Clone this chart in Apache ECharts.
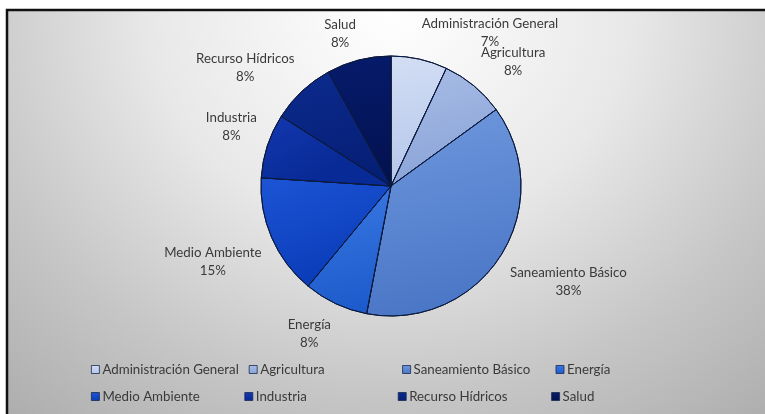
<!DOCTYPE html>
<html>
<head>
<meta charset="utf-8">
<script src="https://cdn.jsdelivr.net/npm/echarts@6/dist/echarts.min.js"></script>
<style>
html,body{margin:0;padding:0;background:#fff;}
#chart{width:765px;height:414px;}
</style>
</head>
<body>
<div id="chart"></div>
<script>
// ---- data ----
const categories = ['Administración General','Agricultura','Saneamiento Básico','Energía','Medio Ambiente','Industria','Recurso Hídricos','Salud'];
const values = [7, 8, 38, 8, 15, 8, 8, 8];
const colorsLight = ['#d3def4','#a9bde6','#6f98dd','#3a78e2','#1d55d6','#1338b0','#0c2b8e','#061b6c'];
const colorsBase  = ['#b4c6ea','#8aa4d8','#4a76c6','#1d5bcc','#0a3cb8','#082a96','#061f76','#03114f'];

// ---- layout ----
const CX = 391, CY = 186, R = 130, LABEL_DIST = 141, TEXT_DY = 2;
const total = values.reduce((a, b) => a + b, 0);
const cum = [];
values.reduce((acc, v, i) => { cum[i] = acc; return acc + v; }, 0);

const chart = echarts.init(document.getElementById('chart'), null, {renderer: 'canvas'});

const grad = (i, x2, y2) => ({
  type: 'linear', x: 0, y: 0, x2: x2, y2: y2,
  colorStops: [{offset: 0, color: colorsLight[i]}, {offset: 1, color: colorsBase[i]}]
});

const seriesData = categories.map((name, i) => ({
  name: name, value: values[i], itemStyle: {color: grad(i, 0.3, 1)}
}));

const legendData = categories.map((name, i) => ({
  name: name,
  itemStyle: {color: grad(i, 0, 1), borderColor: '#1a2a50', borderWidth: 0.8}
}));

const BG_W = 758, BG_H = 404, BG_SX = 1.12;
chart.setOption({
  backgroundColor: '#ffffff',
  graphic: [
    {
      type: 'rect', z: -10, silent: true,
      x: 7, y: 10, scaleX: BG_SX,
      shape: {x: 0, y: 0, width: BG_W / BG_SX, height: BG_H},
      style: {
        fill: {
          type: 'radial', x: 0.505, y: 0.0, r: 1.334,
          colorStops: [
            {offset: 0, color: '#ffffff'},
            {offset: 0.4, color: '#e8e8e8'},
            {offset: 0.714, color: '#c6c6c6'},
            {offset: 1, color: '#acacac'}
          ]
        }
      }
    },
    {
      type: 'polyline', z: -5, silent: true,
      shape: {points: [[7, 420], [7, 10], [770, 10]]},
      style: {stroke: '#111111', lineWidth: 2.5, fill: null}
    }
  ],
  legend: {
    data: legendData,
    left: 86, top: 356, width: 640,
    orient: 'horizontal',
    icon: 'rect', itemWidth: 8, itemHeight: 8, itemGap: 10,
    textStyle: {
      fontFamily: 'Lato', fontSize: 13.3, color: '#3a3a3a',
      width: 132, lineHeight: 17, overflow: 'none', padding: [0, 0, 0, -2]
    },
    selectedMode: false
  },
  series: [{
    type: 'pie',
    center: [CX, CY],
    radius: R,
    startAngle: 90,
    clockwise: true,
    avoidLabelOverlap: false,
    data: seriesData,
    itemStyle: {borderColor: '#0b1a3e', borderWidth: 1},
    emphasis: {disabled: true},
    label: {
      show: true, position: 'outside',
      formatter: '{b}\n{d}%',
      fontFamily: 'Lato', fontSize: 13.3, color: '#3a3a3a',
      lineHeight: 18, align: 'center'
    },
    labelLine: {show: false},
    percentPrecision: 0,
    labelLayout: function (p) {
      const i = p.dataIndex;
      const mid = (cum[i] + values[i] / 2) / total * Math.PI * 2;
      const ux = Math.sin(mid), uy = -Math.cos(mid);
      const w = p.labelRect.width / 2, h = p.labelRect.height / 2;
      const ax = CX + ux * LABEL_DIST, ay = CY + uy * LABEL_DIST;
      const sx = Math.abs(ux) < 0.05 ? 0 : Math.sign(ux);
      const sy = Math.abs(uy) < 0.05 ? 0 : Math.sign(uy);
      return {x: ax + sx * w, y: ay + sy * h + TEXT_DY, align: 'center', verticalAlign: 'middle'};
    }
  }]
});
</script>
</body>
</html>
